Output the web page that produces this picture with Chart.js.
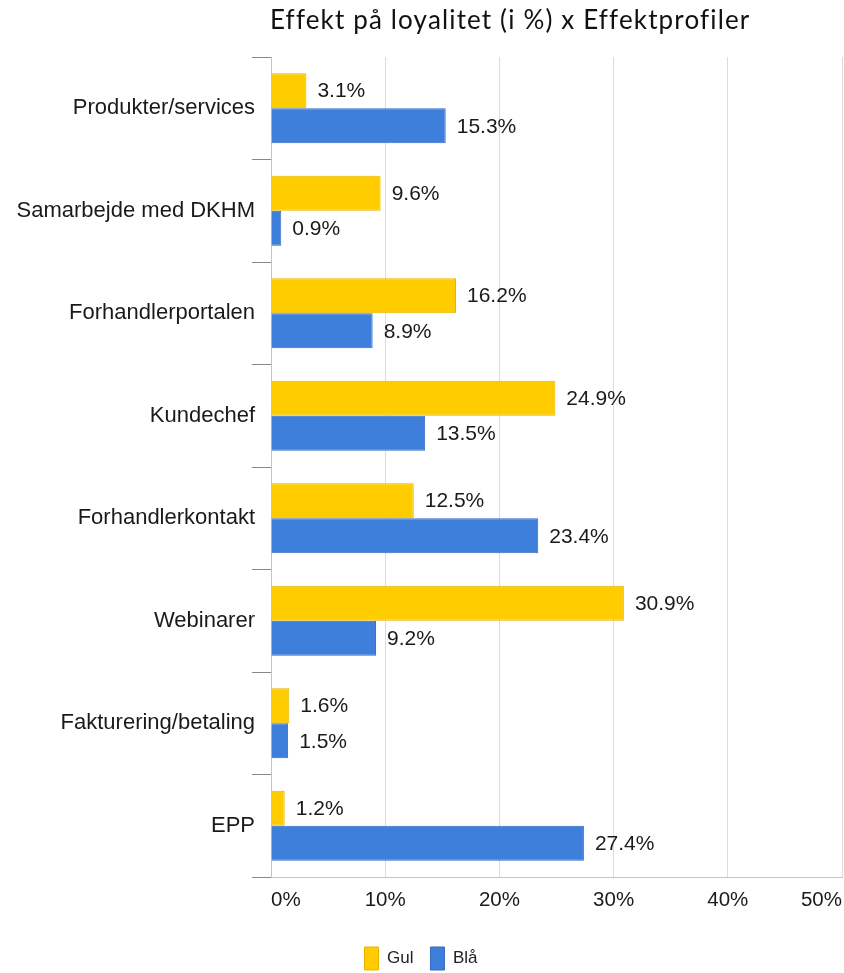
<!DOCTYPE html>
<html>
<head>
<meta charset="utf-8">
<script src="https://cdn.jsdelivr.net/npm/chart.js@4"></script>
<style>
  body { margin: 0; background: #fff; }
  #wrap { position: relative; width: 844px; height: 973px; }
  #titel { position: absolute; top: 3px; left: 270px; font-family: 'Lato', sans-serif; font-size: 26px; color: #111; white-space: nowrap; letter-spacing: 1.15px; }
</style>
</head>
<body>
<div id="wrap">
  <div id="titel">Effekt på loyalitet (i %) x Effektprofiler</div>
  <canvas id="graf" width="844" height="973"></canvas>
</div>
<script>
// --- Data ---
const kategorier = ['Produkter/services', 'Samarbejde med DKHM', 'Forhandlerportalen', 'Kundechef', 'Forhandlerkontakt', 'Webinarer', 'Fakturering/betaling', 'EPP'];
const gul = [3.1, 9.6, 16.2, 24.9, 12.5, 30.9, 1.6, 1.2];
const blaa = [15.3, 0.9, 8.9, 13.5, 23.4, 9.2, 1.5, 27.4];
const xTicks = [0, 10, 20, 30, 40, 50];

const fontArial = "'Liberation Sans', Arial, sans-serif";

// tekst ved enden af hver bjælke
const etiketter = {
    id: 'etiketter',
    afterDatasetsDraw(chart) {
        const ctx = chart.ctx;
        ctx.save();
        ctx.font = '21px ' + fontArial;
        ctx.fillStyle = '#1a1a1a';
        ctx.textBaseline = 'middle';
        ctx.textAlign = 'left';
        chart.data.datasets.forEach((ds, i) => {
            chart.getDatasetMeta(i).data.forEach((bar, j) => {
                ctx.fillText(ds.data[j].toFixed(1) + '%', bar.x + 11, bar.y + 1);
            });
        });
        ctx.restore();
    }
};

new Chart(document.getElementById('graf').getContext('2d'), {
    type: 'bar',
    data: {
        labels: kategorier,
        datasets: [
            { label: 'Gul', data: gul, backgroundColor: '#ffcc00', borderColor: '#e8b400', borderWidth: 1, categoryPercentage: 0.685, barPercentage: 1 },
            { label: 'Blå', data: blaa, backgroundColor: '#3f7fdc', borderColor: '#3469c4', borderWidth: 1, categoryPercentage: 0.685, barPercentage: 1 }
        ]
    },
    options: {
        indexAxis: 'y',
        responsive: false,
        animation: false,
        layout: { padding: { top: 57, right: 2, left: 0, bottom: -7 } },
        plugins: {
            title: { display: false },
            tooltip: { enabled: false },
            legend: {
                position: 'bottom',
                labels: { font: { family: fontArial, size: 17 }, color: '#222', boxWidth: 14, boxHeight: 23, padding: 17 }
            }
        },
        scales: {
            x: {
                min: 0, max: 50,
                afterBuildTicks: (s) => { s.ticks = xTicks.map(v => ({ value: v })); },
                afterFit: (s) => { s.height = 53; s.paddingLeft = 0; s.paddingRight = 0; },
                grid: { color: '#dcdcdc', drawTicks: false },
                border: { color: '#c4c4c4' },
                ticks: { callback: v => v + '%', font: { family: fontArial, size: 20.5 }, color: '#1a1a1a', padding: 11, align: 'inner', maxRotation: 0 }
            },
            y: {
                afterFit: (s) => { s.width = 271; },
                grid: { drawOnChartArea: false, drawTicks: true, tickLength: 19, tickColor: '#888', offset: true },
                border: { color: '#c4c4c4' },
                ticks: { font: { family: fontArial, size: 22 }, color: '#1a1a1a', padding: -3 }
            }
        }
    },
    plugins: [etiketter]
});
</script>
</body>
</html>
